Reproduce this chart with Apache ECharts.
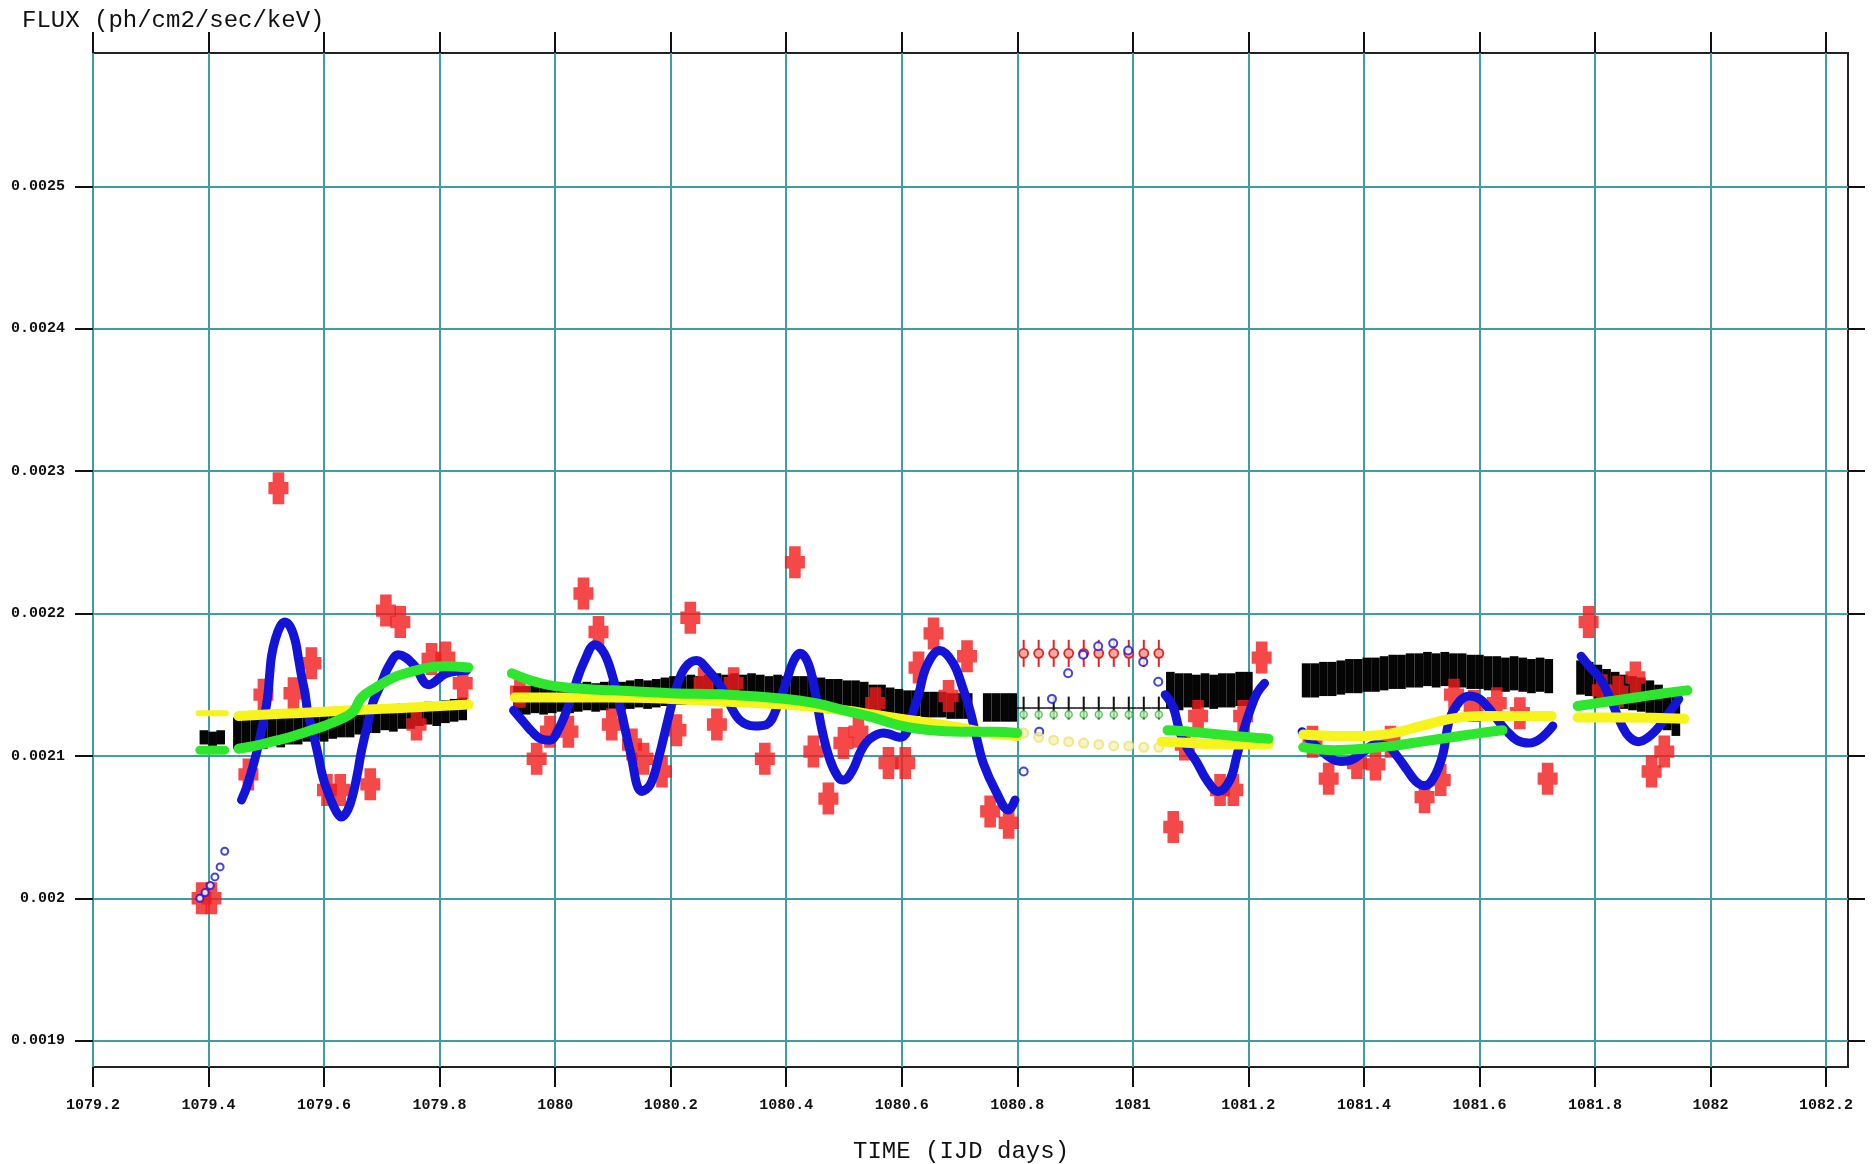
<!DOCTYPE html>
<html>
<head>
<meta charset="utf-8">
<script src="https://cdn.jsdelivr.net/npm/echarts@6/dist/echarts.min.js"></script>
<style>
  html, body { margin: 0; padding: 0; background: #ffffff; }
  #chart { width: 1876px; height: 1164px; }
</style>
</head>
<body>
<div id="chart"></div>
<script>
// ---- axes ----
const xTicks = [1079.2, 1079.4, 1079.6, 1079.8, 1080, 1080.2, 1080.4, 1080.6, 1080.8,
                1081, 1081.2, 1081.4, 1081.6, 1081.8, 1082, 1082.2];
const yTicks = [0.0019, 0.002, 0.0021, 0.0022, 0.0023, 0.0024, 0.0025];
const xRange = [1079.2, 1082.238];
const yRange = [0.0018815, 0.0025936];

// ---- black: binned flux with error boxes [time, flux, fluxErr] ----
const blackBinHalf = 0.0075;
const blackSeg0 = [[1079.392, 0.002113, 0.000005], [1079.407, 0.002112, 0.000005], [1079.421, 0.002113, 0.000005]];
const blackSeg1 = [
  [1079.450, 0.002116, 0.000011], [1079.465, 0.002115, 0.000011], [1079.480, 0.002117, 0.000011],
  [1079.495, 0.002116, 0.000011], [1079.510, 0.002118, 0.000011], [1079.525, 0.002117, 0.000011],
  [1079.540, 0.002119, 0.000011], [1079.555, 0.002118, 0.000010], [1079.570, 0.002120, 0.000010],
  [1079.585, 0.002121, 0.000010], [1079.600, 0.002120, 0.000010], [1079.615, 0.002122, 0.000010],
  [1079.630, 0.002123, 0.000010], [1079.645, 0.002122, 0.000009], [1079.660, 0.002124, 0.000009],
  [1079.675, 0.002125, 0.000009], [1079.690, 0.002125, 0.000009], [1079.705, 0.002127, 0.000009],
  [1079.720, 0.002126, 0.000009], [1079.735, 0.002128, 0.000009], [1079.750, 0.002127, 0.000008],
  [1079.765, 0.002129, 0.000008], [1079.780, 0.002130, 0.000008], [1079.795, 0.002129, 0.000008],
  [1079.810, 0.002131, 0.000008], [1079.825, 0.002132, 0.000008], [1079.840, 0.002133, 0.000008]
];
const blackSeg2 = [
  [1079.935, 0.002139, 0.000010], [1079.950, 0.002139, 0.000010], [1079.965, 0.002140, 0.000010],
  [1079.980, 0.002139, 0.000010], [1079.995, 0.002140, 0.000010], [1080.010, 0.002141, 0.000010],
  [1080.025, 0.002140, 0.000010], [1080.040, 0.002141, 0.000010], [1080.055, 0.002142, 0.000010],
  [1080.070, 0.002141, 0.000010], [1080.085, 0.002142, 0.000010], [1080.100, 0.002143, 0.000010],
  [1080.115, 0.002142, 0.000010], [1080.130, 0.002143, 0.000010], [1080.145, 0.002144, 0.000010],
  [1080.160, 0.002143, 0.000010], [1080.175, 0.002144, 0.000010], [1080.190, 0.002145, 0.000010],
  [1080.205, 0.002146, 0.000010], [1080.220, 0.002146, 0.000010], [1080.235, 0.002147, 0.000010],
  [1080.250, 0.002146, 0.000010], [1080.265, 0.002147, 0.000010], [1080.280, 0.002148, 0.000010],
  [1080.295, 0.002147, 0.000010], [1080.310, 0.002148, 0.000010], [1080.325, 0.002147, 0.000010],
  [1080.340, 0.002148, 0.000010], [1080.355, 0.002147, 0.000010], [1080.370, 0.002146, 0.000010],
  [1080.385, 0.002147, 0.000010], [1080.400, 0.002146, 0.000010], [1080.415, 0.002145, 0.000011],
  [1080.430, 0.002145, 0.000011], [1080.445, 0.002144, 0.000012], [1080.460, 0.002143, 0.000012],
  [1080.475, 0.002142, 0.000012], [1080.490, 0.002142, 0.000012], [1080.505, 0.002141, 0.000012],
  [1080.520, 0.002141, 0.000012], [1080.535, 0.002140, 0.000012], [1080.550, 0.002139, 0.000011],
  [1080.565, 0.002139, 0.000011], [1080.580, 0.002138, 0.000010], [1080.595, 0.002138, 0.000009],
  [1080.610, 0.002137, 0.000009], [1080.625, 0.002137, 0.000009], [1080.640, 0.002136, 0.000009],
  [1080.655, 0.002136, 0.000009], [1080.670, 0.002136, 0.000009], [1080.685, 0.002135, 0.000009],
  [1080.700, 0.002135, 0.000009], [1080.715, 0.002135, 0.000009]
];
const blackSeg3 = [[1080.748, 0.002134, 0.000010], [1080.763, 0.002134, 0.000010],
                   [1080.778, 0.002134, 0.000010], [1080.792, 0.002134, 0.000010]];
const blackSeg4 = [
  [1081.065, 0.002146, 0.000013], [1081.080, 0.002145, 0.000013], [1081.095, 0.002146, 0.000012],
  [1081.110, 0.002145, 0.000012], [1081.125, 0.002146, 0.000012], [1081.140, 0.002145, 0.000012],
  [1081.155, 0.002146, 0.000012], [1081.170, 0.002146, 0.000012], [1081.185, 0.002147, 0.000012],
  [1081.200, 0.002147, 0.000012]
];
const blackSeg5 = [
  [1081.300, 0.002153, 0.000012], [1081.315, 0.002153, 0.000012], [1081.330, 0.002154, 0.000012],
  [1081.345, 0.002154, 0.000012], [1081.360, 0.002155, 0.000012], [1081.375, 0.002156, 0.000012],
  [1081.390, 0.002156, 0.000012], [1081.405, 0.002157, 0.000012], [1081.420, 0.002157, 0.000012],
  [1081.435, 0.002158, 0.000012], [1081.450, 0.002159, 0.000012], [1081.465, 0.002159, 0.000012],
  [1081.480, 0.002160, 0.000012], [1081.495, 0.002160, 0.000012], [1081.510, 0.002161, 0.000012],
  [1081.525, 0.002160, 0.000012], [1081.540, 0.002161, 0.000012], [1081.555, 0.002160, 0.000012],
  [1081.570, 0.002160, 0.000012], [1081.585, 0.002159, 0.000012], [1081.600, 0.002159, 0.000012],
  [1081.615, 0.002158, 0.000012], [1081.630, 0.002158, 0.000012], [1081.645, 0.002157, 0.000012],
  [1081.660, 0.002158, 0.000012], [1081.675, 0.002157, 0.000012], [1081.690, 0.002156, 0.000012],
  [1081.705, 0.002157, 0.000012], [1081.720, 0.002156, 0.000012]
];
const blackSeg6 = [
  [1081.775, 0.002155, 0.000012], [1081.790, 0.002154, 0.000012], [1081.805, 0.002152, 0.000012],
  [1081.820, 0.002149, 0.000012], [1081.835, 0.002147, 0.000012], [1081.850, 0.002145, 0.000012],
  [1081.865, 0.002144, 0.000012], [1081.880, 0.002143, 0.000012], [1081.895, 0.002141, 0.000012],
  [1081.910, 0.002137, 0.000013], [1081.925, 0.002132, 0.000014], [1081.940, 0.002128, 0.000014]
];

// ---- coarse block 1080.81-1081.05 (ten samples per band) ----
const sparseHalf = 0.013;
const sparseBlack = [
  [1080.811, 0.0021336, 0.000008], [1080.837, 0.0021336, 0.000008], [1080.863, 0.0021336, 0.000008],
  [1080.889, 0.0021336, 0.000008], [1080.915, 0.0021336, 0.000008], [1080.941, 0.0021336, 0.000008],
  [1080.967, 0.0021336, 0.000008], [1080.993, 0.0021336, 0.000008], [1081.019, 0.0021336, 0.000008],
  [1081.045, 0.0021336, 0.000008]
];
const sparseRed = [
  [1080.811, 0.002172, 0.0000095], [1080.837, 0.002172, 0.0000095], [1080.863, 0.002172, 0.0000095],
  [1080.889, 0.002172, 0.0000095], [1080.915, 0.002172, 0.0000095], [1080.941, 0.002172, 0.0000095],
  [1080.967, 0.002172, 0.0000095], [1080.993, 0.002172, 0.0000095], [1081.019, 0.002172, 0.0000095],
  [1081.045, 0.002172, 0.0000095]
];
const sparseBlue = [
  [1080.811, 0.002089], [1080.838, 0.002117], [1080.860, 0.002140], [1080.888, 0.002158],
  [1080.914, 0.002171], [1080.940, 0.002177], [1080.966, 0.002179], [1080.992, 0.002174],
  [1081.018, 0.002166], [1081.044, 0.002152]
];
const sparseGreen = [
  [1080.811, 0.002129], [1080.837, 0.002129], [1080.863, 0.002129], [1080.889, 0.002129],
  [1080.915, 0.002129], [1080.941, 0.002129], [1080.967, 0.002129], [1080.993, 0.002129],
  [1081.019, 0.002129], [1081.045, 0.002129]
];
const sparseYellow = [
  [1080.811, 0.002116], [1080.837, 0.002113], [1080.863, 0.002111], [1080.889, 0.002110],
  [1080.915, 0.002109], [1080.941, 0.002108], [1080.967, 0.002107], [1080.993, 0.002107],
  [1081.019, 0.002106], [1081.045, 0.002106]
];

// ---- red: individual measurements [time, flux] ----
const redPoints = [
  [1079.388, 0.002000], [1079.405, 0.002000], [1079.469, 0.002087], [1079.495, 0.002143],
  [1079.521, 0.002288], [1079.547, 0.002144], [1079.578, 0.002165], [1079.605, 0.002076],
  [1079.628, 0.002076], [1079.680, 0.002080], [1079.707, 0.002202], [1079.732, 0.002194],
  [1079.760, 0.002122], [1079.786, 0.002168], [1079.810, 0.002169], [1079.840, 0.002151],
  [1079.939, 0.002145], [1079.968, 0.002098], [1079.991, 0.002117], [1080.023, 0.002117],
  [1080.049, 0.002214], [1080.075, 0.002187], [1080.098, 0.002122], [1080.133, 0.002108],
  [1080.153, 0.002098], [1080.185, 0.002089], [1080.210, 0.002118], [1080.234, 0.002197],
  [1080.257, 0.002151], [1080.280, 0.002122], [1080.309, 0.002151], [1080.363, 0.002098],
  [1080.415, 0.002236], [1080.447, 0.002103], [1080.473, 0.002070], [1080.499, 0.002109],
  [1080.525, 0.002117], [1080.554, 0.002137], [1080.577, 0.002095], [1080.606, 0.002095],
  [1080.629, 0.002162], [1080.655, 0.002186], [1080.681, 0.002142], [1080.713, 0.002170],
  [1080.753, 0.002061], [1080.785, 0.002053],
  [1081.070, 0.002050], [1081.090, 0.002108], [1081.113, 0.002128], [1081.151, 0.002076],
  [1081.174, 0.002076], [1081.191, 0.002128], [1081.223, 0.002169],
  [1081.311, 0.002110], [1081.339, 0.002084], [1081.388, 0.002095], [1081.420, 0.002094],
  [1081.446, 0.002110], [1081.505, 0.002071], [1081.533, 0.002083], [1081.556, 0.002143],
  [1081.590, 0.002135], [1081.630, 0.002137], [1081.670, 0.002130], [1081.718, 0.002084],
  [1081.789, 0.002194], [1081.812, 0.002146], [1081.840, 0.002145], [1081.870, 0.002155],
  [1081.898, 0.002089], [1081.920, 0.002103]
];

// ---- blue model curve ----
const blueStart = [
  [1079.385, 0.002000], [1079.394, 0.002004], [1079.403, 0.002009],
  [1079.411, 0.002015], [1079.420, 0.002022], [1079.428, 0.002033]
];
const blueSeg1 = [
  [1079.457, 0.002069], [1079.466, 0.002078], [1079.475, 0.002090], [1079.483, 0.002102],
  [1079.490, 0.002115], [1079.498, 0.002130], [1079.503, 0.002144], [1079.506, 0.002158],
  [1079.509, 0.002170], [1079.515, 0.002181], [1079.524, 0.002191], [1079.532, 0.002194],
  [1079.541, 0.002191], [1079.550, 0.002181], [1079.555, 0.002170], [1079.561, 0.002156],
  [1079.567, 0.002144], [1079.572, 0.002130], [1079.581, 0.002116], [1079.590, 0.002100],
  [1079.598, 0.002085], [1079.610, 0.002071], [1079.621, 0.002061], [1079.630, 0.002057],
  [1079.641, 0.002062], [1079.650, 0.002073], [1079.658, 0.002088], [1079.664, 0.002102],
  [1079.670, 0.002113], [1079.677, 0.002125], [1079.685, 0.002138], [1079.697, 0.002149],
  [1079.712, 0.002163], [1079.729, 0.002171], [1079.755, 0.002164], [1079.781, 0.002150],
  [1079.812, 0.002158], [1079.847, 0.002160]
];
const blueSeg2 = [
  [1079.928, 0.002132], [1079.945, 0.002124], [1079.960, 0.002117], [1079.975, 0.002112],
  [1079.991, 0.002111], [1080.005, 0.002118], [1080.020, 0.002132], [1080.035, 0.002150],
  [1080.050, 0.002166], [1080.069, 0.002178], [1080.085, 0.002172], [1080.100, 0.002155],
  [1080.115, 0.002130], [1080.130, 0.002103], [1080.150, 0.002075], [1080.165, 0.002080],
  [1080.180, 0.002100], [1080.195, 0.002125], [1080.210, 0.002148], [1080.225, 0.002162],
  [1080.245, 0.002167], [1080.265, 0.002160], [1080.285, 0.002150], [1080.300, 0.002138],
  [1080.320, 0.002125], [1080.345, 0.002121], [1080.366, 0.002122], [1080.385, 0.002135],
  [1080.400, 0.002152], [1080.412, 0.002166], [1080.424, 0.002172], [1080.438, 0.002165],
  [1080.450, 0.002145], [1080.461, 0.002120], [1080.475, 0.002098], [1080.490, 0.002085],
  [1080.499, 0.002083], [1080.515, 0.002090], [1080.530, 0.002104], [1080.545, 0.002112],
  [1080.568, 0.002116], [1080.597, 0.002113], [1080.626, 0.002139], [1080.643, 0.002163],
  [1080.666, 0.002174], [1080.689, 0.002165], [1080.707, 0.002146], [1080.718, 0.002132],
  [1080.730, 0.002112], [1080.741, 0.002095], [1080.763, 0.002075], [1080.785, 0.002062],
  [1080.796, 0.002069]
];
const blueSeg4 = [
  [1081.056, 0.002143], [1081.070, 0.002134], [1081.082, 0.002116], [1081.095, 0.002105],
  [1081.110, 0.002096], [1081.128, 0.002083], [1081.148, 0.002075], [1081.168, 0.002083],
  [1081.180, 0.002100], [1081.192, 0.002118], [1081.203, 0.002132], [1081.215, 0.002144],
  [1081.228, 0.002151]
];
const blueSeg5 = [
  [1081.293, 0.002117], [1081.305, 0.002112], [1081.320, 0.002106], [1081.344, 0.002098],
  [1081.360, 0.002096], [1081.378, 0.002097], [1081.400, 0.002103], [1081.420, 0.002108],
  [1081.440, 0.002107], [1081.457, 0.002100], [1081.475, 0.002090], [1081.490, 0.002082],
  [1081.505, 0.002079], [1081.520, 0.002084], [1081.536, 0.002100], [1081.548, 0.002125],
  [1081.565, 0.002138], [1081.583, 0.002142], [1081.600, 0.002140], [1081.615, 0.002134],
  [1081.630, 0.002126], [1081.646, 0.002118], [1081.665, 0.002111], [1081.686, 0.002109],
  [1081.705, 0.002112], [1081.727, 0.002121]
];
const blueSeg6 = [
  [1081.776, 0.002170], [1081.790, 0.002163], [1081.811, 0.002153], [1081.830, 0.002137],
  [1081.847, 0.002121], [1081.860, 0.002113], [1081.875, 0.002110], [1081.892, 0.002113],
  [1081.910, 0.002120], [1081.928, 0.002130], [1081.945, 0.002140]
];

// ---- yellow model curve ----
const yellowSeg0 = [[1079.383, 0.002130], [1079.430, 0.002130]];
const yellowSeg1 = [
  [1079.452, 0.002128], [1079.500, 0.002129], [1079.550, 0.002130], [1079.600, 0.002131],
  [1079.650, 0.002132], [1079.700, 0.002133], [1079.750, 0.002134], [1079.800, 0.002135],
  [1079.850, 0.002136]
];
const yellowSeg2 = [
  [1079.930, 0.002141], [1080.000, 0.002141], [1080.100, 0.002141], [1080.200, 0.002140],
  [1080.300, 0.002138], [1080.400, 0.002136], [1080.500, 0.002132], [1080.550, 0.002129],
  [1080.600, 0.002126], [1080.650, 0.002123], [1080.700, 0.002120], [1080.750, 0.002116],
  [1080.800, 0.002114]
];
const yellowSeg4 = [[1081.050, 0.002110], [1081.100, 0.002109], [1081.150, 0.002108],
                    [1081.200, 0.002108], [1081.235, 0.002108]];
const yellowSeg5 = [
  [1081.295, 0.002115], [1081.350, 0.002114], [1081.400, 0.002114], [1081.450, 0.002116],
  [1081.500, 0.002121], [1081.550, 0.002126], [1081.600, 0.002128], [1081.650, 0.002128],
  [1081.725, 0.002128]
];
const yellowSeg6 = [[1081.770, 0.002127], [1081.850, 0.002127], [1081.955, 0.002126]];

// ---- green model curve ----
const greenSeg0 = [[1079.385, 0.002104], [1079.428, 0.002104]];
const greenSeg1 = [
  [1079.452, 0.002105], [1079.480, 0.002107], [1079.510, 0.002110], [1079.540, 0.002113],
  [1079.570, 0.002117], [1079.600, 0.002121], [1079.630, 0.002126], [1079.650, 0.002131],
  [1079.665, 0.002141], [1079.690, 0.002148], [1079.720, 0.002155], [1079.750, 0.002159],
  [1079.780, 0.002162], [1079.810, 0.002163], [1079.850, 0.002162]
];
const greenSeg2 = [
  [1079.925, 0.002158], [1079.950, 0.002154], [1079.975, 0.002151], [1080.000, 0.002149],
  [1080.050, 0.002147], [1080.100, 0.002146], [1080.150, 0.002145], [1080.200, 0.002144],
  [1080.300, 0.002143], [1080.400, 0.002140], [1080.450, 0.002137], [1080.500, 0.002132],
  [1080.550, 0.002127], [1080.600, 0.002121], [1080.650, 0.002118], [1080.700, 0.002117],
  [1080.760, 0.002117], [1080.800, 0.002116]
];
const greenSeg4 = [[1081.060, 0.002118], [1081.100, 0.002117], [1081.150, 0.002115],
                   [1081.200, 0.002113], [1081.235, 0.002112]];
const greenSeg5 = [
  [1081.295, 0.002106], [1081.350, 0.002104], [1081.400, 0.002105], [1081.450, 0.002107],
  [1081.500, 0.002110], [1081.550, 0.002113], [1081.600, 0.002116], [1081.640, 0.002118]
];
const greenSeg6 = [[1081.770, 0.002135], [1081.820, 0.002138], [1081.870, 0.002141],
                   [1081.920, 0.002144], [1081.960, 0.002146]];

// ---- drawing ----
const GRID_COLOR = '#3f9ea3';
const INK = '#111111';
const MONO = '"Liberation Mono", "DejaVu Sans Mono", monospace';
const fmt = v => String(+v.toFixed(4));

function renderBox(params, api) {
  const t = api.value(0), v = api.value(1), e = api.value(2);
  const a = api.coord([t - blackBinHalf, v + e]);
  const b = api.coord([t + blackBinHalf, v - e]);
  return { type: 'rect', shape: { x: a[0], y: a[1], width: b[0] - a[0], height: b[1] - a[1] },
           style: { fill: '#050505' } };
}
function renderBar(params, api) {
  const t = api.value(0), v = api.value(1), e = api.value(2);
  const top = api.coord([t, v + e]), bot = api.coord([t, v - e]);
  const l = api.coord([t - sparseHalf, v]), r = api.coord([t + sparseHalf, v]);
  return { type: 'group', children: [
    { type: 'line', shape: { x1: top[0], y1: top[1], x2: bot[0], y2: bot[1] }, style: { stroke: INK, lineWidth: 2 } },
    { type: 'line', shape: { x1: l[0], y1: l[1], x2: r[0], y2: r[1] }, style: { stroke: INK, lineWidth: 1.5 } }
  ] };
}
function renderRedDot(params, api) {
  const t = api.value(0), v = api.value(1), e = api.value(2);
  const c = api.coord([t, v]), top = api.coord([t, v + e]), bot = api.coord([t, v - e]);
  return { type: 'group', children: [
    { type: 'line', shape: { x1: top[0], y1: top[1], x2: bot[0], y2: bot[1] }, style: { stroke: '#e02424', lineWidth: 2 } },
    { type: 'circle', shape: { cx: c[0], cy: c[1], r: 4.5 }, style: { fill: '#f4a9a0', stroke: '#e02424', lineWidth: 1.8 } }
  ] };
}
function custom(data, renderItem) {
  return { type: 'custom', data, renderItem, coordinateSystem: 'cartesian2d', encode: { x: 0, y: 1 }, silent: true };
}
function curve(data, color, width) {
  return { type: 'line', data, smooth: 0.4, showSymbol: false, symbol: 'none',
           lineStyle: { color, width, cap: 'round', join: 'round' }, itemStyle: { color }, silent: true };
}
function dots(data, color, size, fill, border) {
  return { type: 'scatter', data, symbol: 'circle', symbolSize: size, silent: true,
           itemStyle: { color: fill, borderColor: color, borderWidth: border } };
}

const BLUE = '#1414d8', GREEN = '#2fe62f', YELLOW = '#f6f41c', RED = '#f21a1a';
const crossPath = 'path://M4,0H15V9.5H19V21.5H15V31H4V21.5H0V9.5H4Z';

const chart = echarts.init(document.getElementById('chart'), null, { renderer: 'canvas' });
chart.setOption({
  animation: false,
  backgroundColor: '#ffffff',
  grid: { left: 93, top: 53, right: 28, bottom: 97, show: true, borderColor: '#222', borderWidth: 2,
          backgroundColor: '#ffffff' },
  xAxis: [
    { type: 'value', position: 'bottom', min: xRange[0], max: xRange[1],
      axisLine: { show: false },
      axisTick: { show: true, inside: false, length: 20, customValues: xTicks, lineStyle: { color: INK, width: 2 } },
      axisLabel: { customValues: xTicks, formatter: fmt, margin: 31, fontFamily: MONO, fontWeight: 'bold',
                   fontSize: 15, color: INK },
      splitLine: { show: true, lineStyle: { color: GRID_COLOR, width: 2 } } },
    { type: 'value', position: 'top', min: xRange[0], max: xRange[1],
      axisLine: { show: false },
      axisTick: { show: true, inside: false, length: 21, customValues: xTicks, lineStyle: { color: INK, width: 2 } },
      axisLabel: { show: false }, splitLine: { show: false } }
  ],
  yAxis: [
    { type: 'value', position: 'left', min: yRange[0], max: yRange[1],
      axisLine: { show: false },
      axisTick: { show: true, inside: false, length: 18, customValues: yTicks, lineStyle: { color: INK, width: 2 } },
      axisLabel: { customValues: yTicks, formatter: fmt, margin: 28, fontFamily: MONO, fontWeight: 'bold',
                   fontSize: 15, color: INK },
      splitLine: { show: true, lineStyle: { color: GRID_COLOR, width: 2 } } },
    { type: 'value', position: 'right', min: yRange[0], max: yRange[1],
      axisLine: { show: false },
      axisTick: { show: true, inside: false, length: 17, customValues: yTicks, lineStyle: { color: INK, width: 2 } },
      axisLabel: { show: false }, splitLine: { show: false } }
  ],
  graphic: [
    { type: 'text', left: 22, top: 9, silent: true,
      style: { text: 'FLUX (ph/cm2/sec/keV)', font: 'normal 24px ' + MONO, fill: INK } },
    { type: 'text', left: 853, top: 1140, silent: true,
      style: { text: 'TIME (IJD days)', font: 'normal 24px ' + MONO, fill: INK } }
  ],
  series: [
    custom([].concat(blackSeg0, blackSeg1, blackSeg2, blackSeg3, blackSeg4, blackSeg5, blackSeg6), renderBox),
    custom(sparseBlack, renderBar),
    { type: 'scatter', data: redPoints, symbol: crossPath, symbolSize: [20, 32], silent: true,
      itemStyle: { color: RED } },
    custom(sparseRed, renderRedDot),
    curve(blueSeg1, BLUE, 9), curve(blueSeg2, BLUE, 9), curve(blueSeg4, BLUE, 9),
    curve(blueSeg5, BLUE, 9), curve(blueSeg6, BLUE, 9),
    dots(blueStart, BLUE, 7, '#ffffff', 2),
    dots(sparseBlue, BLUE, 8, '#ffffff', 2),
    curve(yellowSeg0, YELLOW, 6), curve(yellowSeg1, YELLOW, 10), curve(yellowSeg2, YELLOW, 10),
    curve(yellowSeg4, YELLOW, 10), curve(yellowSeg5, YELLOW, 10), curve(yellowSeg6, YELLOW, 10),
    dots(sparseYellow, '#e9e27a', 9, '#f6f3b0', 2),
    curve(greenSeg0, GREEN, 9), curve(greenSeg1, GREEN, 10), curve(greenSeg2, GREEN, 10),
    curve(greenSeg4, GREEN, 10), curve(greenSeg5, GREEN, 10), curve(greenSeg6, GREEN, 10),
    dots(sparseGreen, '#34c234', 7, '#c8f5c8', 1.5)
  ]
});
</script>
</body>
</html>
